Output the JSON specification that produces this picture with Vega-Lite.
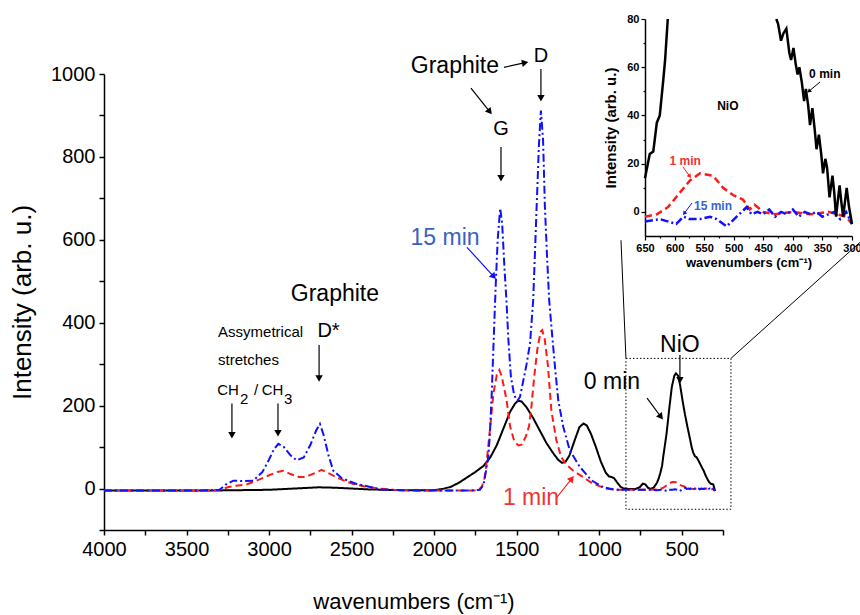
{
"$schema":"https://vega.github.io/schema/vega-lite/v6.json",
"width":619,"height":456,
"autosize":{"type":"none"},
"padding":{"left":104,"top":74,"right":137,"bottom":85},
"background":"white",
"config":{"view":{"stroke":null},"font":"Liberation Sans","axis":{"grid":false,"domainColor":"black","tickColor":"black","labelColor":"black","titleColor":"black"}},
"datasets":{
"spec":[
{"t":"0 min","w":4000,"I":-5},{"t":"0 min","w":3800,"I":-5},{"t":"0 min","w":3600,"I":-5},{"t":"0 min","w":3400,"I":-5},{"t":"0 min","w":3200,"I":-4},{"t":"0 min","w":3000,"I":-3},{"t":"0 min","w":2900,"I":-1},{"t":"0 min","w":2800,"I":1},{"t":"0 min","w":2700,"I":3},{"t":"0 min","w":2600,"I":2},{"t":"0 min","w":2500,"I":0},{"t":"0 min","w":2400,"I":-2},{"t":"0 min","w":2200,"I":-4},{"t":"0 min","w":2000,"I":-4},{"t":"0 min","w":1950,"I":-1},{"t":"0 min","w":1900,"I":4},{"t":"0 min","w":1850,"I":14},{"t":"0 min","w":1800,"I":27},{"t":"0 min","w":1750,"I":40},{"t":"0 min","w":1700,"I":55},{"t":"0 min","w":1660,"I":75},{"t":"0 min","w":1620,"I":105},{"t":"0 min","w":1580,"I":145},{"t":"0 min","w":1540,"I":185},{"t":"0 min","w":1510,"I":205},{"t":"0 min","w":1490,"I":212},{"t":"0 min","w":1470,"I":210},{"t":"0 min","w":1440,"I":196},{"t":"0 min","w":1400,"I":170},{"t":"0 min","w":1360,"I":140},{"t":"0 min","w":1320,"I":110},{"t":"0 min","w":1280,"I":86},{"t":"0 min","w":1250,"I":70},{"t":"0 min","w":1225,"I":62},{"t":"0 min","w":1205,"I":64},{"t":"0 min","w":1180,"I":80},{"t":"0 min","w":1150,"I":115},{"t":"0 min","w":1120,"I":148},{"t":"0 min","w":1095,"I":157},{"t":"0 min","w":1075,"I":152},{"t":"0 min","w":1050,"I":132},{"t":"0 min","w":1020,"I":100},{"t":"0 min","w":990,"I":65},{"t":"0 min","w":960,"I":38},{"t":"0 min","w":940,"I":29},{"t":"0 min","w":925,"I":28},{"t":"0 min","w":910,"I":25},{"t":"0 min","w":890,"I":14},{"t":"0 min","w":870,"I":4},{"t":"0 min","w":850,"I":0},{"t":"0 min","w":820,"I":-1},{"t":"0 min","w":780,"I":-1},{"t":"0 min","w":755,"I":3},{"t":"0 min","w":735,"I":12},{"t":"0 min","w":720,"I":10},{"t":"0 min","w":705,"I":2},{"t":"0 min","w":690,"I":-1},{"t":"0 min","w":670,"I":2},{"t":"0 min","w":650,"I":14},{"t":"0 min","w":640,"I":24},{"t":"0 min","w":630,"I":37},{"t":"0 min","w":619,"I":55},{"t":"0 min","w":611,"I":80},{"t":"0 min","w":600,"I":110},{"t":"0 min","w":592,"I":132},{"t":"0 min","w":575,"I":195},{"t":"0 min","w":560,"I":245},{"t":"0 min","w":545,"I":272},{"t":"0 min","w":535,"I":278},{"t":"0 min","w":522,"I":272},{"t":"0 min","w":510,"I":250},{"t":"0 min","w":495,"I":212},{"t":"0 min","w":480,"I":178},{"t":"0 min","w":465,"I":148},{"t":"0 min","w":450,"I":120},{"t":"0 min","w":440,"I":100},{"t":"0 min","w":430,"I":86},{"t":"0 min","w":420,"I":78},{"t":"0 min","w":411,"I":76},{"t":"0 min","w":399,"I":68},{"t":"0 min","w":389,"I":60},{"t":"0 min","w":378,"I":51},{"t":"0 min","w":367,"I":43},{"t":"0 min","w":356,"I":32},{"t":"0 min","w":343,"I":22},{"t":"0 min","w":333,"I":15},{"t":"0 min","w":321,"I":11},{"t":"0 min","w":309,"I":10},{"t":"0 min","w":298,"I":-6},
{"t":"1 min","w":4000,"I":-5},{"t":"1 min","w":3700,"I":-5},{"t":"1 min","w":3400,"I":-5},{"t":"1 min","w":3300,"I":-3},{"t":"1 min","w":3250,"I":3},{"t":"1 min","w":3200,"I":7},{"t":"1 min","w":3136,"I":10},{"t":"1 min","w":3075,"I":19},{"t":"1 min","w":3000,"I":32},{"t":"1 min","w":2950,"I":40},{"t":"1 min","w":2914,"I":43},{"t":"1 min","w":2870,"I":35},{"t":"1 min","w":2820,"I":28},{"t":"1 min","w":2780,"I":28},{"t":"1 min","w":2730,"I":36},{"t":"1 min","w":2681,"I":45},{"t":"1 min","w":2640,"I":37},{"t":"1 min","w":2590,"I":27},{"t":"1 min","w":2540,"I":18},{"t":"1 min","w":2490,"I":11},{"t":"1 min","w":2420,"I":5},{"t":"1 min","w":2330,"I":0},{"t":"1 min","w":2250,"I":-3},{"t":"1 min","w":2100,"I":-5},{"t":"1 min","w":1900,"I":-5},{"t":"1 min","w":1760,"I":-5},{"t":"1 min","w":1730,"I":-3},{"t":"1 min","w":1710,"I":5},{"t":"1 min","w":1695,"I":25},{"t":"1 min","w":1683,"I":60},{"t":"1 min","w":1665,"I":130},{"t":"1 min","w":1641,"I":229},{"t":"1 min","w":1620,"I":275},{"t":"1 min","w":1605,"I":286},{"t":"1 min","w":1590,"I":270},{"t":"1 min","w":1561,"I":213},{"t":"1 min","w":1540,"I":150},{"t":"1 min","w":1515,"I":115},{"t":"1 min","w":1490,"I":104},{"t":"1 min","w":1470,"I":106},{"t":"1 min","w":1445,"I":125},{"t":"1 min","w":1425,"I":150},{"t":"1 min","w":1410,"I":200},{"t":"1 min","w":1395,"I":265},{"t":"1 min","w":1375,"I":335},{"t":"1 min","w":1355,"I":378},{"t":"1 min","w":1345,"I":382},{"t":"1 min","w":1330,"I":360},{"t":"1 min","w":1310,"I":294},{"t":"1 min","w":1290,"I":189},{"t":"1 min","w":1260,"I":117},{"t":"1 min","w":1230,"I":76},{"t":"1 min","w":1200,"I":58},{"t":"1 min","w":1160,"I":44},{"t":"1 min","w":1100,"I":28},{"t":"1 min","w":1040,"I":12},{"t":"1 min","w":960,"I":0},{"t":"1 min","w":900,"I":-3},{"t":"1 min","w":800,"I":-3},{"t":"1 min","w":700,"I":-3},{"t":"1 min","w":650,"I":-2},{"t":"1 min","w":630,"I":-1},{"t":"1 min","w":611,"I":2},{"t":"1 min","w":591,"I":8},{"t":"1 min","w":574,"I":13},{"t":"1 min","w":557,"I":16},{"t":"1 min","w":535,"I":15},{"t":"1 min","w":518,"I":10},{"t":"1 min","w":501,"I":7},{"t":"1 min","w":484,"I":5},{"t":"1 min","w":473,"I":1},{"t":"1 min","w":465,"I":3},{"t":"1 min","w":450,"I":0},{"t":"1 min","w":430,"I":-1},{"t":"1 min","w":400,"I":0},{"t":"1 min","w":370,"I":-1},{"t":"1 min","w":340,"I":0},{"t":"1 min","w":310,"I":-2},{"t":"1 min","w":300,"I":-5},
{"t":"15 min","w":4000,"I":-5},{"t":"15 min","w":3500,"I":-5},{"t":"15 min","w":3350,"I":-4},{"t":"15 min","w":3300,"I":-3},{"t":"15 min","w":3260,"I":10},{"t":"15 min","w":3217,"I":19},{"t":"15 min","w":3150,"I":18},{"t":"15 min","w":3096,"I":19},{"t":"15 min","w":3040,"I":40},{"t":"15 min","w":3000,"I":70},{"t":"15 min","w":2970,"I":95},{"t":"15 min","w":2944,"I":108},{"t":"15 min","w":2910,"I":100},{"t":"15 min","w":2870,"I":80},{"t":"15 min","w":2833,"I":68},{"t":"15 min","w":2790,"I":75},{"t":"15 min","w":2750,"I":105},{"t":"15 min","w":2715,"I":140},{"t":"15 min","w":2692,"I":156},{"t":"15 min","w":2670,"I":130},{"t":"15 min","w":2640,"I":80},{"t":"15 min","w":2611,"I":43},{"t":"15 min","w":2560,"I":25},{"t":"15 min","w":2470,"I":11},{"t":"15 min","w":2400,"I":5},{"t":"15 min","w":2328,"I":-2},{"t":"15 min","w":2200,"I":-4},{"t":"15 min","w":2000,"I":-5},{"t":"15 min","w":1800,"I":-5},{"t":"15 min","w":1750,"I":-4},{"t":"15 min","w":1723,"I":-3},{"t":"15 min","w":1700,"I":10},{"t":"15 min","w":1692,"I":28},{"t":"15 min","w":1672,"I":76},{"t":"15 min","w":1662,"I":133},{"t":"15 min","w":1652,"I":220},{"t":"15 min","w":1640,"I":350},{"t":"15 min","w":1628,"I":480},{"t":"15 min","w":1615,"I":600},{"t":"15 min","w":1600,"I":676},{"t":"15 min","w":1588,"I":640},{"t":"15 min","w":1575,"I":540},{"t":"15 min","w":1562,"I":454},{"t":"15 min","w":1550,"I":358},{"t":"15 min","w":1535,"I":270},{"t":"15 min","w":1515,"I":225},{"t":"15 min","w":1495,"I":212},{"t":"15 min","w":1480,"I":221},{"t":"15 min","w":1460,"I":260},{"t":"15 min","w":1440,"I":300},{"t":"15 min","w":1419,"I":350},{"t":"15 min","w":1400,"I":454},{"t":"15 min","w":1390,"I":560},{"t":"15 min","w":1379,"I":680},{"t":"15 min","w":1365,"I":830},{"t":"15 min","w":1353,"I":912},{"t":"15 min","w":1340,"I":840},{"t":"15 min","w":1329,"I":680},{"t":"15 min","w":1316,"I":560},{"t":"15 min","w":1303,"I":454},{"t":"15 min","w":1285,"I":370},{"t":"15 min","w":1268,"I":294},{"t":"15 min","w":1248,"I":213},{"t":"15 min","w":1218,"I":149},{"t":"15 min","w":1178,"I":92},{"t":"15 min","w":1117,"I":52},{"t":"15 min","w":1047,"I":20},{"t":"15 min","w":976,"I":3},{"t":"15 min","w":900,"I":-3},{"t":"15 min","w":800,"I":-3},{"t":"15 min","w":700,"I":-3},{"t":"15 min","w":650,"I":-4},{"t":"15 min","w":625,"I":-3},{"t":"15 min","w":597,"I":-5},{"t":"15 min","w":585,"I":-2},{"t":"15 min","w":575,"I":-3},{"t":"15 min","w":557,"I":-3},{"t":"15 min","w":540,"I":-2},{"t":"15 min","w":529,"I":-3},{"t":"15 min","w":512,"I":-6},{"t":"15 min","w":495,"I":-2},{"t":"15 min","w":478,"I":2},{"t":"15 min","w":470,"I":-1},{"t":"15 min","w":460,"I":0},{"t":"15 min","w":450,"I":-1},{"t":"15 min","w":440,"I":1},{"t":"15 min","w":430,"I":-2},{"t":"15 min","w":420,"I":0},{"t":"15 min","w":410,"I":-1},{"t":"15 min","w":400,"I":1},{"t":"15 min","w":390,"I":-2},{"t":"15 min","w":380,"I":0},{"t":"15 min","w":370,"I":-1},{"t":"15 min","w":360,"I":0},{"t":"15 min","w":350,"I":-2},{"t":"15 min","w":340,"I":-1},{"t":"15 min","w":330,"I":0},{"t":"15 min","w":320,"I":-3},{"t":"15 min","w":310,"I":0},{"t":"15 min","w":300,"I":-5}
],
"ink":[
{"p":"a","w":650,"I":14},{"p":"a","w":642,"I":24},{"p":"a","w":636,"I":25},{"p":"a","w":630,"I":37},{"p":"a","w":625,"I":40},{"p":"a","w":619,"I":55},{"p":"a","w":616,"I":63},{"p":"a","w":611.5,"I":80},
{"p":"b","w":428,"I":80},{"p":"b","w":425,"I":78},{"p":"b","w":420,"I":71},{"p":"b","w":416,"I":74},{"p":"b","w":411,"I":76},{"p":"b","w":406,"I":66},{"p":"b","w":403,"I":63},{"p":"b","w":399,"I":68},{"p":"b","w":395,"I":61},{"p":"b","w":392,"I":57},{"p":"b","w":389,"I":60},{"p":"b","w":385,"I":54},{"p":"b","w":381,"I":46},{"p":"b","w":378,"I":51},{"p":"b","w":374,"I":44},{"p":"b","w":371,"I":36},{"p":"b","w":367,"I":43},{"p":"b","w":363,"I":34},{"p":"b","w":360,"I":26},{"p":"b","w":356,"I":32},{"p":"b","w":352,"I":24},{"p":"b","w":349,"I":16},{"p":"b","w":345,"I":22},{"p":"b","w":342,"I":18},{"p":"b","w":338,"I":6},{"p":"b","w":333,"I":15},{"p":"b","w":330,"I":8},{"p":"b","w":327,"I":-2},{"p":"b","w":321,"I":11},{"p":"b","w":318,"I":4},{"p":"b","w":315,"I":-2},{"p":"b","w":309,"I":10},{"p":"b","w":305,"I":2},{"p":"b","w":300,"I":-5}
],
"box":[{"x0":838,"x1":202,"y0":-50,"y1":314}],
"anchor":[{"w":4000,"I":0}],
"ianchor":[{"w":650,"I":0}],
"links":[{"x0":868,"y0":599,"x1":838,"y1":314},{"x0":-580,"y0":594,"x1":202,"y1":314}],
"arrows":[
{"t":"0 min","x0":2697,"y0":346,"x1":2697,"y1":268,"ang":180},
{"t":"0 min","x0":3225,"y0":205,"x1":3225,"y1":131,"ang":180},
{"t":"0 min","x0":2946,"y0":205,"x1":2946,"y1":136,"ang":180},
{"t":"0 min","x0":1577,"y0":1016,"x1":1455,"y1":1027,"ang":78},
{"t":"0 min","x0":1777,"y0":966,"x1":1667,"y1":911,"ang":141},
{"t":"0 min","x0":1595,"y0":824,"x1":1595,"y1":751,"ang":180},
{"t":"0 min","x0":1353,"y0":1012,"x1":1353,"y1":944,"ang":180},
{"t":"15 min","x0":1801,"y0":582,"x1":1643,"y1":513,"ang":138},
{"t":"1 min","x0":1256,"y0":-21,"x1":1170,"y1":22,"ang":39},
{"t":"0 min","x0":710,"y0":218,"x1":630,"y1":175,"ang":143},
{"t":"0 min","x0":511,"y0":322,"x1":511,"y1":264,"ang":180}
],
"tBig":[{"x":2601,"y":469,"label":"Graphite"},{"x":1874,"y":1019,"label":"Graphite"},{"x":923,"y":257,"label":"0 min"},{"x":511,"y":346,"label":"NiO"}],
"tMid":[{"x":2640,"y":380,"label":"D*"},{"x":1353,"y":1043,"label":"D"},{"x":1595,"y":867,"label":"G"}],
"tSmall":[{"x":3309,"y":378,"label":"Assymetrical"},{"x":3309,"y":310,"label":"stretches"},{"x":3314,"y":238,"label":"CH"},{"x":3176,"y":216,"label":"2"},{"x":3091,"y":238,"label":"/"},{"x":3045,"y":238,"label":"CH"},{"x":2910,"y":216,"label":"3"}],
"tBlue":[{"x":1934,"y":604,"label":"15 min"}],
"tRed":[{"x":1413,"y":-24,"label":"1 min"}],
"iArrows":[
{"t":"0 min","x0":354,"y0":53.9,"x1":372,"y1":50.2,"ang":230},
{"t":"1 min","x0":586,"y0":18.7,"x1":575,"y1":15,"ang":145},
{"t":"15 min","x0":570.5,"y0":3.7,"x1":583,"y1":-0.4,"ang":216}
],
"iBlack":[{"x":510,"y":43.9,"label":"NiO"},{"x":346,"y":57.2,"label":"0 min"}],
"iRed":[{"x":582,"y":21.1,"label":"1 min"}],
"iBlue":[{"x":535,"y":2.5,"label":"15 min"}]
},
"layer":[
{"layer":[
{"data":{"name":"spec"},
"mark":{"type":"line","strokeWidth":2},
"encoding":{
"x":{"field":"w","type":"quantitative","scale":{"domain":[4000,250],"nice":false,"zero":false},"axis":null},
"y":{"field":"I","type":"quantitative","scale":{"domain":[-100,1000],"nice":false,"zero":false},"axis":null},
"color":{"field":"t","type":"nominal","scale":{"domain":["0 min","1 min","15 min"],"range":["#000000","#ff1a1a","#1010ff"]},"legend":null},
"strokeDash":{"field":"t","type":"nominal","scale":{"domain":["0 min","1 min","15 min"],"range":[[1,0],[7,4],[8,3,2,3]]},"legend":null}
}},
{"data":{"name":"box"},"mark":{"type":"rect","filled":false,"stroke":"black","strokeWidth":1,"strokeDash":[1.5,2],"clip":false},
"encoding":{"x":{"field":"x0","type":"quantitative","axis":null},"x2":{"field":"x1"},"y":{"field":"y0","type":"quantitative","axis":null},"y2":{"field":"y1"}}},
{"data":{"name":"links"},"mark":{"type":"rule","stroke":"black","strokeWidth":1,"clip":false},
"encoding":{"x":{"field":"x0","type":"quantitative","axis":null},"x2":{"field":"x1"},"y":{"field":"y0","type":"quantitative","axis":null},"y2":{"field":"y1"}}},
{"data":{"name":"arrows"},"mark":{"type":"rule","strokeWidth":1.2,"clip":false},
"encoding":{"x":{"field":"x0","type":"quantitative","axis":null},"x2":{"field":"x1"},"y":{"field":"y0","type":"quantitative","axis":null},"y2":{"field":"y1"},"color":{"field":"t","type":"nominal","legend":null}}},
{"data":{"name":"arrows"},"mark":{"type":"point","shape":"triangle","filled":true,"size":55,"opacity":1,"clip":false},
"encoding":{"x":{"field":"x1","type":"quantitative","axis":null},"y":{"field":"y1","type":"quantitative","axis":null},"angle":{"field":"ang","type":"quantitative","scale":null},"color":{"field":"t","type":"nominal","legend":null}}},
{"data":{"name":"tBig"},"mark":{"type":"text","fontSize":23,"align":"center","baseline":"middle","color":"black","clip":false},
"encoding":{"x":{"field":"x","type":"quantitative","axis":null},"y":{"field":"y","type":"quantitative","axis":null},"text":{"field":"label"}}},
{"data":{"name":"tMid"},"mark":{"type":"text","fontSize":20,"align":"center","baseline":"middle","color":"black","clip":false},
"encoding":{"x":{"field":"x","type":"quantitative","axis":null},"y":{"field":"y","type":"quantitative","axis":null},"text":{"field":"label"}}},
{"data":{"name":"tSmall"},"mark":{"type":"text","fontSize":15,"align":"left","baseline":"middle","color":"black","clip":false},
"encoding":{"x":{"field":"x","type":"quantitative","axis":null},"y":{"field":"y","type":"quantitative","axis":null},"text":{"field":"label"}}},
{"data":{"name":"tBlue"},"mark":{"type":"text","fontSize":23,"align":"center","baseline":"middle","color":"#3a5fc0","clip":false},
"encoding":{"x":{"field":"x","type":"quantitative","axis":null},"y":{"field":"y","type":"quantitative","axis":null},"text":{"field":"label"}}},
{"data":{"name":"tRed"},"mark":{"type":"text","fontSize":23,"align":"center","baseline":"middle","color":"#ee3333","clip":false},
"encoding":{"x":{"field":"x","type":"quantitative","axis":null},"y":{"field":"y","type":"quantitative","axis":null},"text":{"field":"label"}}}
]},
{"layer":[
{"data":{"name":"spec"},"transform":[{"filter":"datum.w <= 650 && datum.t != '0 min'"}],
"mark":{"type":"line","strokeWidth":2.5,"clip":false},
"encoding":{
"x":{"field":"w","type":"quantitative","scale":{"domain":[650,300],"range":[541,748],"nice":false,"zero":false},"axis":null},
"y":{"field":"I","type":"quantitative","scale":{"domain":[-10,80],"range":[162,-55],"nice":false,"zero":false},"axis":null},
"color":{"field":"t","type":"nominal","legend":null},
"strokeDash":{"field":"t","type":"nominal","legend":null}
}},
{"data":{"name":"ink"},"mark":{"type":"line","strokeWidth":2.5,"color":"black","clip":false},
"encoding":{"x":{"field":"w","type":"quantitative","axis":null},"y":{"field":"I","type":"quantitative","axis":null},"detail":{"field":"p"}}},
{"data":{"name":"iArrows"},"mark":{"type":"rule","strokeWidth":1,"clip":false},
"encoding":{"x":{"field":"x0","type":"quantitative","axis":null},"x2":{"field":"x1"},"y":{"field":"y0","type":"quantitative","axis":null},"y2":{"field":"y1"},"color":{"field":"t","type":"nominal","legend":null}}},
{"data":{"name":"iArrows"},"mark":{"type":"point","shape":"triangle","filled":true,"size":22,"opacity":1,"clip":false},
"encoding":{"x":{"field":"x1","type":"quantitative","axis":null},"y":{"field":"y1","type":"quantitative","axis":null},"angle":{"field":"ang","type":"quantitative","scale":null},"color":{"field":"t","type":"nominal","legend":null}}},
{"data":{"name":"iBlack"},"mark":{"type":"text","fontSize":12,"fontWeight":"bold","align":"center","baseline":"middle","color":"black","clip":false},
"encoding":{"x":{"field":"x","type":"quantitative","axis":null},"y":{"field":"y","type":"quantitative","axis":null},"text":{"field":"label"}}},
{"data":{"name":"iRed"},"mark":{"type":"text","fontSize":12,"fontWeight":"bold","align":"center","baseline":"middle","color":"#ee3333","clip":false},
"encoding":{"x":{"field":"x","type":"quantitative","axis":null},"y":{"field":"y","type":"quantitative","axis":null},"text":{"field":"label"}}},
{"data":{"name":"iBlue"},"mark":{"type":"text","fontSize":12,"fontWeight":"bold","align":"center","baseline":"middle","color":"#3366cc","clip":false},
"encoding":{"x":{"field":"x","type":"quantitative","axis":null},"y":{"field":"y","type":"quantitative","axis":null},"text":{"field":"label"}}}
]},
{"data":{"name":"anchor"},"mark":{"type":"point","opacity":0},
"encoding":{
"x":{"field":"w","type":"quantitative","scale":{"domain":[4000,250],"nice":false,"zero":false},
"axis":{"orient":"bottom","values":[4000,3750,3500,3250,3000,2750,2500,2250,2000,1750,1500,1250,1000,750,500,250],"format":"d","labelExpr":"datum.value % 500 === 0 ? datum.label : ''","tickSize":5,"tickWidth":1.5,"domainWidth":1.5,"labelFontSize":20,"labelPadding":4,"labelFlush":false,"labelOverlap":false,"title":"wavenumbers (cm⁻¹)","titleFontSize":22,"titleFontWeight":"normal","titlePadding":32}},
"y":{"field":"I","type":"quantitative","scale":{"domain":[-100,1000],"nice":false,"zero":false},
"axis":{"orient":"left","values":[-100,0,100,200,300,400,500,600,700,800,900,1000],"format":"d","labelExpr":"datum.value % 200 === 0 ? datum.label : ''","tickSize":5,"tickWidth":1.5,"domainWidth":1.5,"labelFontSize":20,"labelPadding":4,"labelFlush":false,"labelOverlap":false,"title":"Intensity (arb. u.)","titleFontSize":26,"titleFontWeight":"normal","titlePadding":15}}
}},
{"data":{"name":"ianchor"},"mark":{"type":"point","opacity":0},
"encoding":{
"x":{"field":"w","type":"quantitative","scale":{"domain":[650,300],"range":[541,748],"nice":false,"zero":false},
"axis":{"orient":"bottom","offset":-294,"values":[650,600,550,500,450,400,350,300],"format":"d","tickSize":4,"tickWidth":1.2,"domainWidth":1.5,"labelFontSize":11,"labelFontWeight":"bold","labelPadding":2,"labelFlush":false,"labelOverlap":false,"title":"wavenumbers (cm⁻¹)","titleFontSize":13,"titleFontWeight":"bold","titlePadding":3}},
"y":{"field":"I","type":"quantitative","scale":{"domain":[-10,80],"range":[162,-55],"nice":false,"zero":false},
"axis":{"orient":"left","offset":-541,"values":[0,20,40,60,80],"format":"d","tickSize":4,"tickWidth":1.2,"domainWidth":1.5,"labelFontSize":11,"labelFontWeight":"bold","labelPadding":2,"labelFlush":false,"labelOverlap":false,"title":"Intensity (arb. u.)","titleFontSize":15,"titleFontWeight":"bold","titlePadding":8}}
}},
{"data":{"name":"ianchor"},"mark":{"type":"point","opacity":0},
"encoding":{
"x":{"field":"w","type":"quantitative","scale":{"domain":[650,300],"range":[541,748],"nice":false,"zero":false},
"axis":{"orient":"bottom","offset":-294,"values":[625,575,525,475,425,375,325],"labels":false,"domain":false,"tickSize":2,"tickWidth":1.2,"title":null}},
"y":{"field":"I","type":"quantitative","scale":{"domain":[-10,80],"range":[162,-55],"nice":false,"zero":false},
"axis":{"orient":"left","offset":-541,"values":[10,30,50,70],"labels":false,"domain":false,"tickSize":2,"tickWidth":1.2,"title":null}}
}}
],
"resolve":{"scale":{"x":"independent","y":"independent"},"axis":{"x":"independent","y":"independent"}}
}
